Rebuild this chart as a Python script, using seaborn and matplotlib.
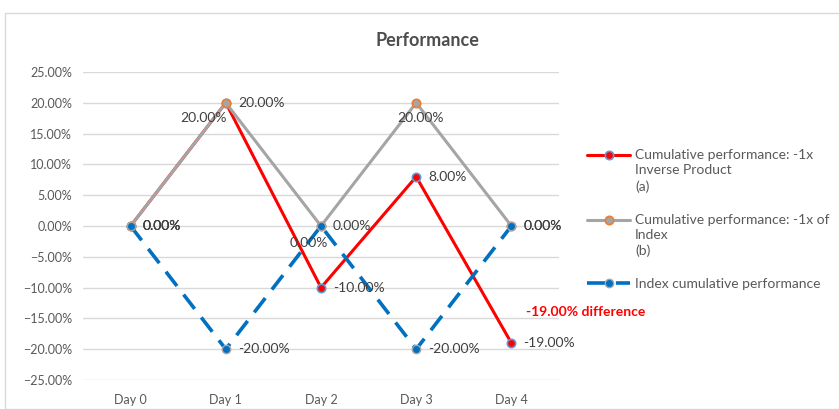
import numpy as np
import matplotlib.pyplot as plt
import pandas as pd
import seaborn as sns
from matplotlib.patches import Rectangle
from matplotlib.ticker import PercentFormatter

days = ['Day 0', 'Day 1', 'Day 2', 'Day 3', 'Day 4']
inverse_product = [0, 20, -10, 8, -19]
inverse_of_index = [0, 20, 0, 20, 0]
index_perf = [0, -20, 0, -20, 0]

label_a = 'Cumulative performance: -1x\nInverse Product\n(a)'
label_b = 'Cumulative performance: -1x of\nIndex\n(b)'
label_c = 'Index cumulative performance'
diff_text = '-19.00% difference'


def main():
    sns.set_style('white')
    plt.rcParams['font.family'] = ['Lato', 'DejaVu Sans']

    fig = plt.figure(figsize=(8.39, 4.09), dpi=100)
    fig.patches.append(Rectangle((5 / 839, 0), 1, 1 - 13 / 409, transform=fig.transFigure,
                                 fill=False, edgecolor='#D9D9D9', linewidth=1))
    ax = fig.add_axes([83 / 839, 1 - 380 / 409, 476 / 839, 308 / 409])

    df = pd.DataFrame({'day': days, 'a': inverse_product, 'b': inverse_of_index, 'c': index_perf})

    sns.lineplot(data=df, x='day', y='a', ax=ax, color='#FF0000', linewidth=2.2, marker='o',
                 markersize=6, markerfacecolor='#FF0000', markeredgecolor='#5B9BD5',
                 markeredgewidth=1.2, label=label_a, zorder=3)
    sns.lineplot(data=df, x='day', y='b', ax=ax, color='#A5A5A5', linewidth=2.2, marker='o',
                 markersize=6, markerfacecolor='#A5A5A5', markeredgecolor='#ED7D31',
                 markeredgewidth=1.2, label=label_b, zorder=4)
    sns.lineplot(data=df, x='day', y='c', ax=ax, color='#0070C0', linewidth=2.6, marker='o',
                 markersize=6, markerfacecolor='#0070C0', markeredgecolor='#A5A5A5',
                 markeredgewidth=1.0, label=label_c, zorder=5)
    ax.lines[2].set_dashes((5, 3))

    # data labels, offsets in pixels
    right = (12, 0, 'left')
    offs = {
        'a': [right, (-22, -15, 'center'), right, right, right],
        'b': [right, right, right, (4, -15, 'center'), right],
        'c': [right, right, (-12, -17, 'center'), right, right],
    }
    for key in ['a', 'b', 'c']:
        for i, v in enumerate(df[key]):
            dx, dy, ha = offs[key][i]
            ax.annotate(f'{v:.2f}%', xy=(i, v), xytext=(dx, dy), textcoords='offset pixels',
                        ha=ha, va='center', fontsize=10, color='#404040', zorder=6)

    ax.annotate(diff_text, xy=(4, inverse_product[4]), xytext=(15, 31), textcoords='offset pixels',
                ha='left', va='center', fontsize=10, fontweight='bold', color='#FF0000')

    ax.set_xlim(-0.5, 4.5)
    ax.set_ylim(-25, 25)
    ax.set_yticks(np.arange(-25, 26, 5))
    ax.yaxis.set_major_formatter(PercentFormatter(decimals=2))
    ax.grid(axis='y', color='#D9D9D9', linewidth=1)
    ax.set_axisbelow(True)
    for s in ax.spines.values():
        s.set_visible(False)
    ax.tick_params(axis='both', length=0, labelsize=9, labelcolor='#595959')
    ax.tick_params(axis='y', pad=8)
    ax.tick_params(axis='x', pad=10)
    ax.set_xlabel('')
    ax.set_ylabel('')

    fig.text(427 / 839, 1 - 40 / 409, 'Performance', ha='center', va='center', fontsize=13,
             fontweight='bold', color='#4D4D4D')

    h, l = ax.get_legend_handles_labels()
    ax.get_legend().remove()
    leg = fig.legend(h, l, loc='upper left', bbox_to_anchor=(587 / 839, 1 - 149 / 409),
                     frameon=False, fontsize=10, labelcolor='#595959', handlelength=3.1,
                     handletextpad=0.36, labelspacing=1.5, borderpad=0, borderaxespad=0)
    for t in leg.get_texts():
        t.set_linespacing(1.35)
    # put the handle beside the first line of a wrapped label
    rows = leg._legend_handle_box.get_children()[0].get_children()
    for row, text in zip(rows, l):
        n = text.count('\n')
        for art in row.get_children()[0].get_children():
            art.set_ydata(np.asarray(art.get_ydata()) + 11.2 * n / 2)

    fig.savefig('out.png', dpi=100)


if __name__ == "__main__":
    main()
